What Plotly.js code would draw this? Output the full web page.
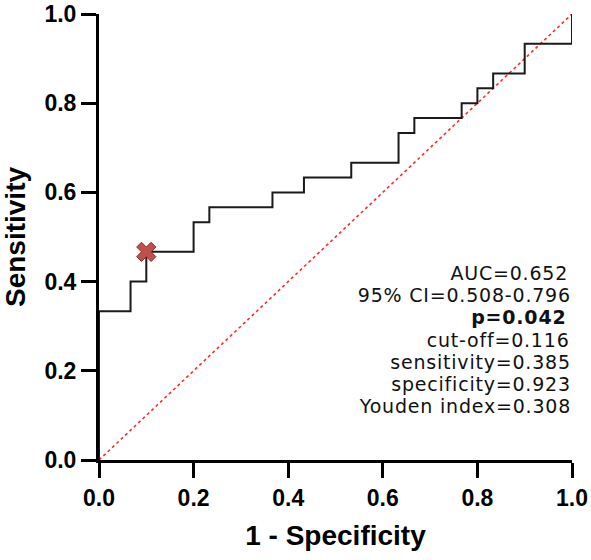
<!DOCTYPE html>
<html>
<head>
<meta charset="utf-8">
<script src="https://cdn.plot.ly/plotly-3.0.1.min.js"></script>
<style>
  html, body { margin: 0; padding: 0; background: #fff; }
  #chart { width: 591px; height: 560px; }
  /* slightly looser tracking for the statistics block */
  #chart .annotation-text { letter-spacing: 0.8px; }
</style>
</head>
<body>
<div id="chart"></div>
<script>
// ROC curve corner points (1 - specificity, sensitivity), drawn as a staircase
const fpr = [0, 0, 0.0667, 0.1, 0.2, 0.2333, 0.3667, 0.4333, 0.5333, 0.6333, 0.6667, 0.7667, 0.8, 0.8333, 0.9, 1.0];
const tpr = [0, 0.3333, 0.4, 0.4667, 0.5333, 0.5667, 0.6, 0.6333, 0.6667, 0.7333, 0.7667, 0.8, 0.8333, 0.8667, 0.9333, 1.0];

// Chosen cut-off point on the curve
const cutX = [0.1];
const cutY = [0.4667];

// Reference line of no discrimination
const refX = [0, 1];
const refY = [0, 1];

const tickVals = [0, 0.2, 0.4, 0.6, 0.8, 1.0];
const tickText = ['0.0', '0.2', '0.4', '0.6', '0.8', '1.0'];

// Summary statistics, one line each
const statLines = [
  'AUC=0.652',
  '95% CI=0.508-0.796',
  '<b>p=0.042</b>',
  'cut-off=0.116',
  'sensitivity=0.385',
  'specificity=0.923',
  'Youden index=0.308'
];

const traces = [
  {
    x: refX, y: refY, mode: 'lines', type: 'scatter',
    line: { color: '#ff2a2a', width: 1.6, dash: 'dot' },
    hoverinfo: 'skip', cliponaxis: false
  },
  {
    x: fpr, y: tpr, mode: 'lines', type: 'scatter',
    line: { color: '#1a1a1a', width: 2, shape: 'hv' },
    cliponaxis: false
  },
  {
    x: cutX, y: cutY, mode: 'markers', type: 'scatter',
    marker: { symbol: 'x', size: 17, color: '#c0504d', line: { color: '#8a2e2b', width: 1 } },
    cliponaxis: false
  }
];

const statTop = 0.42, statStep = 0.05;
const annotations = statLines.map((t, i) => ({
  text: t, xref: 'x', yref: 'y',
  x: 0.987, y: statTop - i * statStep,
  xanchor: 'right', yanchor: 'middle', showarrow: false,
  font: { family: 'DejaVu Sans, sans-serif', size: 19, color: '#111' }
}));

const axisCommon = {
  range: [0, 1], tickvals: tickVals, ticktext: tickText,
  showgrid: false, zeroline: false, showline: true,
  linecolor: '#000', linewidth: 3,
  ticks: 'outside', ticklen: 15, tickwidth: 3, tickcolor: '#000',
  ticklabeloverflow: 'allow',
  tickfont: { family: 'Liberation Sans, Arial, sans-serif', size: 23, color: '#000', weight: 'bold' },
  fixedrange: true
};

const layout = {
  width: 591, height: 560,
  margin: { l: 99, r: 19, t: 14, b: 100 },
  paper_bgcolor: '#fff', plot_bgcolor: '#fff',
  showlegend: false,
  xaxis: Object.assign({}, axisCommon, {
    title: { text: '<b>1 - Specificity</b>', standoff: 16,
      font: { family: 'Liberation Sans, Arial, sans-serif', size: 28, color: '#000' } }
  }),
  yaxis: Object.assign({}, axisCommon, {
    title: { text: '<b>Sensitivity</b>', standoff: 14,
      font: { family: 'Liberation Sans, Arial, sans-serif', size: 28, color: '#000' } }
  }),
  annotations: annotations
};

Plotly.newPlot('chart', traces, layout, { staticPlot: true, displayModeBar: false });
</script>
</body>
</html>
